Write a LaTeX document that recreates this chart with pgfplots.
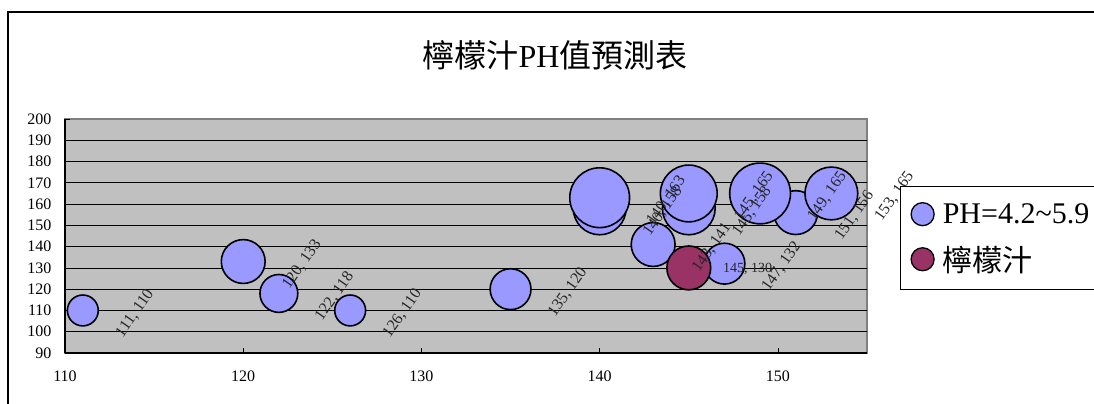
\documentclass[border=0pt]{standalone}
\usepackage{fontspec}
\setmainfont{Liberation Serif}
\newfontfamily\cjk{Noto Sans CJK TC}
\usepackage{pgfplots}
\usepackage{pgfplotstable}
\pgfplotsset{compat=1.18}
\definecolor{bubbleblue}{HTML}{9999FF}
\definecolor{lemon}{HTML}{993366}
\definecolor{plotbg}{HTML}{C0C0C0}
\definecolor{bordergray}{HTML}{808080}

\pgfplotstableread{
x y r
111 110 15.5
126 110 15.5
122 118 19
135 120 20.5
147 132 20.5
120 133 22
143 141 22
151 156 22
140 158 26.5
145 158 26.5
153 165 26.5
145 165 28.5
140 163 30
149 165 30.5
}\seriesA

\pgfplotstableread{
x y r
145 130 22
}\seriesB

\begin{document}
\begin{tikzpicture}[x=1bp,y=1bp]
\useasboundingbox (0,0) rectangle (1094,403);
\draw[line width=1.5bp, black] (8,-10) -- (8,391) -- (1110,391);
\begin{axis}[
  at={(65bp,50bp)}, anchor=south west,
  scale only axis, width=802bp, height=234bp,
  xmin=110, xmax=155, ymin=90, ymax=200,
  xtick={110,120,...,150},
  ytick={90,100,...,190},
  extra y ticks={200},
  extra y tick style={grid=none},
  ymajorgrids,
  grid style={black, line width=0.8bp},
  axis x line*=bottom, axis y line*=left,
  axis line style={-, black, line width=1.2bp},
  axis background/.style={fill=plotbg, draw=bordergray, line width=1.5bp},
  tick align=inside, major tick length=5bp,
  tick style={black, line width=0.8bp},
  /pgf/number format/assume math mode=true,
  ticklabel style={font=\fontsize{16bp}{16bp}\selectfont, text=black},
  yticklabel style={xshift=-10bp},
  xticklabel style={yshift=-14bp},
  title={{\cjk 檸檬汁}PH{\cjk 值預測表}},
  title style={at={(0.611,1.248)}, anchor=center, font=\fontsize{32bp}{36bp}\selectfont},
  legend style={at={(1.0411,0.7137)}, anchor=north west, draw=black, line width=1bp,
    fill=white, inner xsep=10bp, inner ysep=15bp, row sep=17bp,
    font=\fontsize{30bp}{34bp}\selectfont,
    nodes={inner ysep=2bp, inner xsep=8bp, text width=220bp, align=left}},
  legend cell align=left,
  clip=false,
]
\addplot[scatter, only marks, mark=*,
  visualization depends on={\thisrow{r}\as\rad},
  scatter/use mapped color={draw=black, fill=bubbleblue},
  mark options={line width=1.6bp},
  scatter/@pre marker code/.append style={/tikz/mark size=\rad},
  legend image code/.code={\draw[draw=black, line width=1.3bp, fill=bubbleblue] (11.5bp,0) circle (11.5bp);}
] table {\seriesA};
\addlegendentry{{PH=4.2\textasciitilde5.9}}
\addplot[scatter, only marks, mark=*,
  visualization depends on={\thisrow{r}\as\rad},
  scatter/use mapped color={draw=black, fill=lemon},
  mark options={line width=1.6bp},
  scatter/@pre marker code/.append style={/tikz/mark size=\rad},
  legend image code/.code={\draw[draw=black, line width=1.3bp, fill=lemon] (11.5bp,0) circle (11.5bp);}
] table {\seriesB};
\addlegendentry{{\cjk 檸檬汁}}
\addplot[draw=none, mark=none, forget plot,
  visualization depends on={\thisrow{r}\as\rad},
  visualization depends on={\thisrow{x}\as\xv},
  visualization depends on={\thisrow{y}\as\yv},
  nodes near coords={\pgfmathprintnumber{\xv}, \pgfmathprintnumber{\yv}},
  every node near coord/.append style={font=\fontsize{16bp}{16bp}\selectfont, text=black!85,
    anchor=center, inner sep=0pt, xshift={\rad+37}, yshift=-3bp, rotate=55}
] table {\seriesA};
\addplot[draw=none, mark=none, forget plot,
  visualization depends on={\thisrow{r}\as\rad},
  visualization depends on={\thisrow{x}\as\xv},
  visualization depends on={\thisrow{y}\as\yv},
  nodes near coords={\pgfmathprintnumber{\xv}, \pgfmathprintnumber{\yv}},
  every node near coord/.append style={font=\fontsize{14bp}{14bp}\selectfont, text=black!85,
    anchor=center, inner sep=0pt, xshift={\rad+37}, yshift=-1bp}
] table {\seriesB};
\end{axis}
\end{tikzpicture}
\end{document}
